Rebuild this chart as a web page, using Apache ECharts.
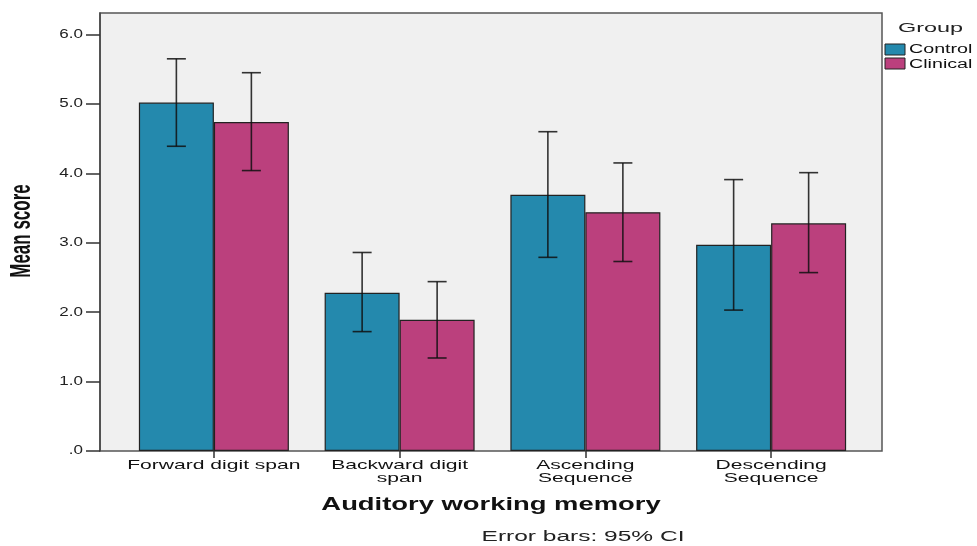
<!DOCTYPE html>
<html>
<head>
<meta charset="utf-8">
<script src="https://cdn.jsdelivr.net/npm/echarts@6/dist/echarts.min.js"></script>
<style>
  html, body { margin: 0; padding: 0; background: #ffffff; }
  #chart { width: 977px; height: 546px; }
</style>
</head>
<body>
<div id="chart"></div>
<script>
// Auditory working memory tasks: mean score by group with 95% CI
const categories = ['Forward digit span', 'Backward digit\nspan', 'Ascending\nSequence', 'Descending\nSequence'];
const groups = ['Control', 'Clinical'];

const controlMean = [5.02, 2.28, 3.69, 2.97];
const controlLow  = [4.39, 1.72, 2.79, 2.03];
const controlHigh = [5.65, 2.86, 4.60, 3.91];

const clinicalMean = [4.74, 1.89, 3.44, 3.28];
const clinicalLow  = [4.04, 1.34, 2.73, 2.57];
const clinicalHigh = [5.45, 2.44, 4.15, 4.01];

const yTicks = [0, 1, 2, 3, 4, 5, 6];

const FONT = "'Liberation Sans', Arial, sans-serif";
const BAR_W = 75;
const colors = ['#2489ad', '#bb407d'];
// texts are set in a wide, horizontally stretched face
const STRETCH = 1.62;

function ciSeries(name, low, high, offset) {
  return {
    type: 'custom',
    name: name + ' CI',
    xAxisIndex: 0,
    yAxisIndex: 0,
    z: 10,
    silent: true,
    data: low.map((l, i) => [i, l, high[i]]),
    renderItem: function (params, api) {
      const x = api.coord([api.value(0), 0])[0] + offset;
      const yLo = api.coord([0, api.value(1)])[1];
      const yHi = api.coord([0, api.value(2)])[1];
      const cap = 9.5;
      const style = { stroke: '#111111', lineWidth: 1.6, opacity: 0.85 };
      return {
        type: 'group',
        children: [
          { type: 'line', shape: { x1: x, y1: yLo, x2: x, y2: yHi }, style: style },
          { type: 'line', shape: { x1: x - cap, y1: yHi, x2: x + cap, y2: yHi }, style: style },
          { type: 'line', shape: { x1: x - cap, y1: yLo, x2: x + cap, y2: yLo }, style: style }
        ]
      };
    }
  };
}

// category labels under the bars, drawn through the category axis
const xLabelSeries = {
  type: 'custom',
  name: 'x labels',
  xAxisIndex: 0,
  yAxisIndex: 0,
  silent: true,
  z: 20,
  data: categories.map((c, i) => [i]),
  renderItem: function (params, api) {
    const i = api.value(0);
    const p = api.coord([i, 0]);
    return {
      type: 'text',
      x: p[0],
      y: p[1] + 8,
      scaleX: STRETCH,
      style: {
        text: categories[i],
        fontFamily: FONT, fontSize: 13, lineHeight: 13,
        fill: '#111111', align: 'center', verticalAlign: 'top'
      }
    };
  }
};

// value-axis tick labels
const yLabelSeries = {
  type: 'custom',
  name: 'y labels',
  xAxisIndex: 1,
  yAxisIndex: 1,
  silent: true,
  z: 20,
  data: yTicks.map(v => [0, v]),
  renderItem: function (params, api) {
    const v = api.value(1);
    const p = api.coord([0, v]);
    return {
      type: 'text',
      x: p[0] - 17,
      y: p[1],
      scaleX: 1.36,
      style: {
        text: v === 0 ? '.0' : v.toFixed(1),
        fontFamily: FONT, fontSize: 12.5,
        fill: '#222222', align: 'right', verticalAlign: 'middle'
      }
    };
  }
};

const chart = echarts.init(document.getElementById('chart'), null, { renderer: 'canvas' });

chart.setOption({
  animation: false,
  backgroundColor: '#ffffff',
  grid: [
    // inner grid holds the category bands
    { left: 121, right: 113, top: 13, bottom: 95, show: false },
    // outer grid draws the plot frame and the value axis
    { left: 100, right: 95, top: 13, bottom: 95, show: true,
      backgroundColor: '#f0f0f0', borderColor: '#555555', borderWidth: 1.5, z: 0 }
  ],
  xAxis: [
    {
      type: 'category',
      gridIndex: 0,
      data: categories,
      axisLine: { show: false },
      axisTick: { show: true, alignWithLabel: true, length: 7, lineStyle: { color: '#333333', width: 1.5 } },
      axisLabel: { show: false },
      splitLine: { show: false }
    },
    {
      type: 'value',
      gridIndex: 1,
      min: 0, max: 1,
      show: false
    }
  ],
  yAxis: [
    {
      type: 'value',
      gridIndex: 0,
      min: 0, max: 6.31,
      show: false
    },
    {
      type: 'value',
      gridIndex: 1,
      min: 0, max: 6.31,
      axisLine: { show: true, lineStyle: { color: '#444444', width: 1.5 } },
      axisTick: { show: true, length: 14, customValues: yTicks, lineStyle: { color: '#333333', width: 1.5 } },
      axisLabel: { show: false },
      splitLine: { show: false }
    }
  ],
  graphic: [
    // value-axis title, rotated; its screen-horizontal stretch is the local y scale
    { type: 'text', x: 22.5, y: 231, rotation: Math.PI / 2, scaleY: 1.7,
      style: { text: 'Mean score', fontFamily: FONT, fontSize: 17, fontWeight: 'bold', fill: '#111111', align: 'center', verticalAlign: 'middle' } },
    // category-axis title and footnote
    { type: 'text', x: 491, y: 505, scaleX: 1.48,
      style: { text: 'Auditory working memory', fontFamily: FONT, fontSize: 18.5, fontWeight: 'bold', fill: '#111111', align: 'center', verticalAlign: 'middle' } },
    { type: 'text', x: 583, y: 537, scaleX: 1.75,
      style: { text: 'Error bars: 95% CI', fontFamily: FONT, fontSize: 14, fill: '#222222', align: 'center', verticalAlign: 'middle' } },
    // legend
    { type: 'text', x: 898, y: 28, scaleX: 1.8,
      style: { text: 'Group', fontFamily: FONT, fontSize: 13, fill: '#222222', align: 'left', verticalAlign: 'middle' } },
    { type: 'rect', shape: { x: 885, y: 44, width: 20, height: 11 },
      style: { fill: colors[0], stroke: '#222222', lineWidth: 1 } },
    { type: 'rect', shape: { x: 885, y: 58, width: 20, height: 11 },
      style: { fill: colors[1], stroke: '#222222', lineWidth: 1 } },
    { type: 'text', x: 909, y: 50, scaleX: 1.64,
      style: { text: groups[0], fontFamily: FONT, fontSize: 12, fill: '#111111', align: 'left', verticalAlign: 'middle' } },
    { type: 'text', x: 909, y: 64.5, scaleX: 1.64,
      style: { text: groups[1], fontFamily: FONT, fontSize: 12, fill: '#111111', align: 'left', verticalAlign: 'middle' } }
  ],
  series: [
    {
      name: groups[0], type: 'bar', xAxisIndex: 0, yAxisIndex: 0,
      data: controlMean, barWidth: BAR_W, barGap: '0%', z: 5,
      itemStyle: { color: colors[0], borderColor: '#222222', borderWidth: 1.2 }
    },
    {
      name: groups[1], type: 'bar', xAxisIndex: 0, yAxisIndex: 0,
      data: clinicalMean, barWidth: BAR_W, barGap: '0%', z: 5,
      itemStyle: { color: colors[1], borderColor: '#222222', borderWidth: 1.2 }
    },
    ciSeries(groups[0], controlLow, controlHigh, -BAR_W / 2),
    ciSeries(groups[1], clinicalLow, clinicalHigh, BAR_W / 2),
    xLabelSeries,
    yLabelSeries
  ]
});
</script>
</body>
</html>
